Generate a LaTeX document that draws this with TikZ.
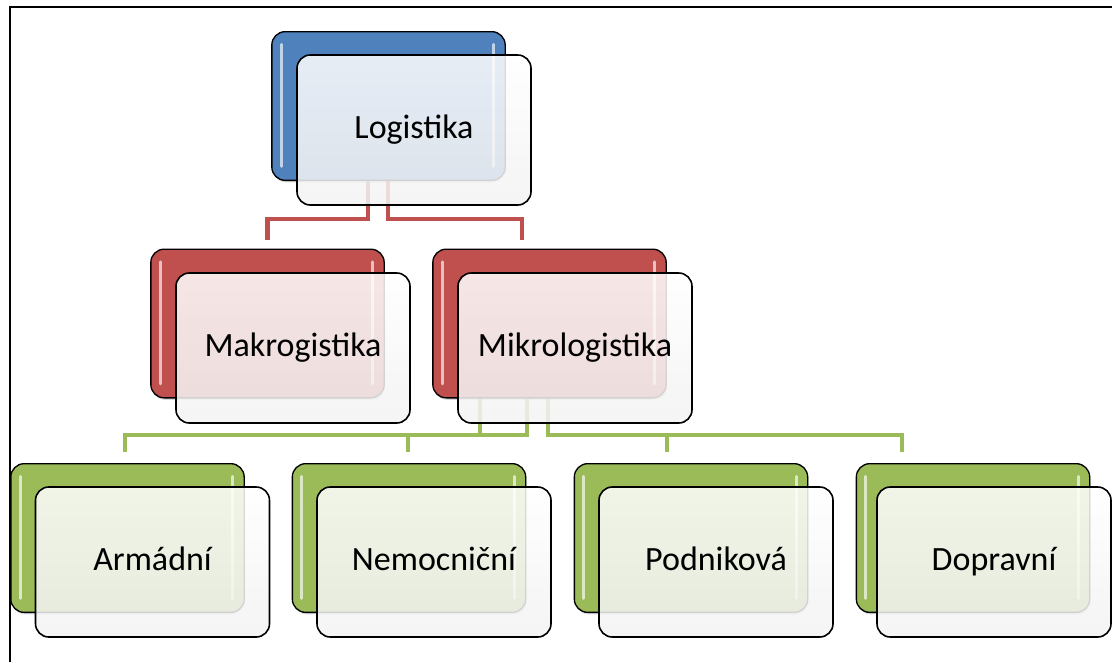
\documentclass[tikz,border=0pt]{standalone}
\usepackage{fontspec}
\setmainfont{Carlito}
\usetikzlibrary{backgrounds,shadows}
\definecolor{cblue}{HTML}{4F81BD}
\definecolor{cred}{HTML}{C0504D}
\definecolor{cgreen}{HTML}{9BBB59}
\tikzset{
  backbox/.style={draw=black, line width=1pt, rounded corners=10pt,
    minimum width=175pt, minimum height=111.5pt, inner sep=0pt,
    drop shadow={opacity=0.3, shadow xshift=0.8pt, shadow yshift=-1.5pt}},
  frontbox/.style={draw=black, line width=1.2pt, rounded corners=10pt,
    minimum width=175.5pt, minimum height=112.5pt, inner sep=0pt,
    top color=white, bottom color=black!5, fill opacity=0.86, draw opacity=1,
    text opacity=1, font=\fontsize{25.5}{30}\selectfont,
    text height=18pt, text depth=6pt},
  hl/.style={white, opacity=0.65, line width=2.2pt, line cap=round},
  redc/.style={cred, line width=3.5pt},
  greenc/.style={cgreen, line width=3.3pt},
  frameline/.style={black, line width=1.6pt}
}
\begin{document}
\begin{tikzpicture}[x=0.75pt,y=-0.75pt]
\useasboundingbox (0,0) rectangle (1112,662);
\draw[frameline] (10,662) -- (10,7) -- (1112,7);

% back boxes
\node[backbox, fill=cblue]  (lb)  at (388.5,106) {};
\node[backbox, fill=cred]   (mb)  at (267.5,323.5) {};
\node[backbox, fill=cred]   (mib) at (549.5,323.5) {};
\node[backbox, fill=cgreen] (ab)  at (127.5,538) {};
\node[backbox, fill=cgreen] (nb)  at (409,538) {};
\node[backbox, fill=cgreen] (pb)  at (691,538) {};
\node[backbox, fill=cgreen] (db)  at (973,538) {};

\foreach \n in {lb,mb,mib,ab,nb,pb,db}{
  \draw[hl] ([xshift=7.5pt,yshift=-10pt]\n.north west) -- ([xshift=7.5pt,yshift=11pt]\n.south west);
  \draw[hl] ([xshift=-9pt,yshift=-10pt]\n.north east) -- ([xshift=-9pt,yshift=11pt]\n.south east);
}

% front boxes
\node[frontbox] (lf)  at (414,130) {Logistika};
\node[frontbox] (mf)  at (293,348) {Makrogistika};
\node[frontbox] (mif) at (575,348) {Mikrologistika};
\node[frontbox] (af)  at (152.5,562) {Armádní};
\node[frontbox] (nf)  at (434,562) {Nemocniční};
\node[frontbox] (pf)  at (716,562) {Podniková};
\node[frontbox] (df)  at (994,562) {Dopravní};

% connectors
\begin{pgfonlayer}{background}
\coordinate (ra) at (368,219);
\coordinate (rb) at (388,219);
\coordinate (mkt) at (267.5,240);
\coordinate (mit) at (522,240);
\draw[redc] (lb.center -| ra) -- (ra) -| (mkt);
\draw[redc] (lb.center -| rb) -- (rb) -| (mit);
\coordinate (ga) at (480,435);
\coordinate (gb) at (527,435);
\coordinate (gc) at (548,435);
\coordinate (art) at (125,452);
\coordinate (net) at (408,452);
\coordinate (pot) at (667,452);
\coordinate (dot) at (902,452);
\draw[greenc] (mib.center -| ga) -- (ga) -| (art);
\draw[greenc] (mib.center -| gb) -- (gb) -| (net);
\draw[greenc] (mib.center -| gc) -- (gc) -| (pot);
\draw[greenc] (mib.center -| gc) -- (gc) -| (dot);
\end{pgfonlayer}
\end{tikzpicture}
\end{document}
